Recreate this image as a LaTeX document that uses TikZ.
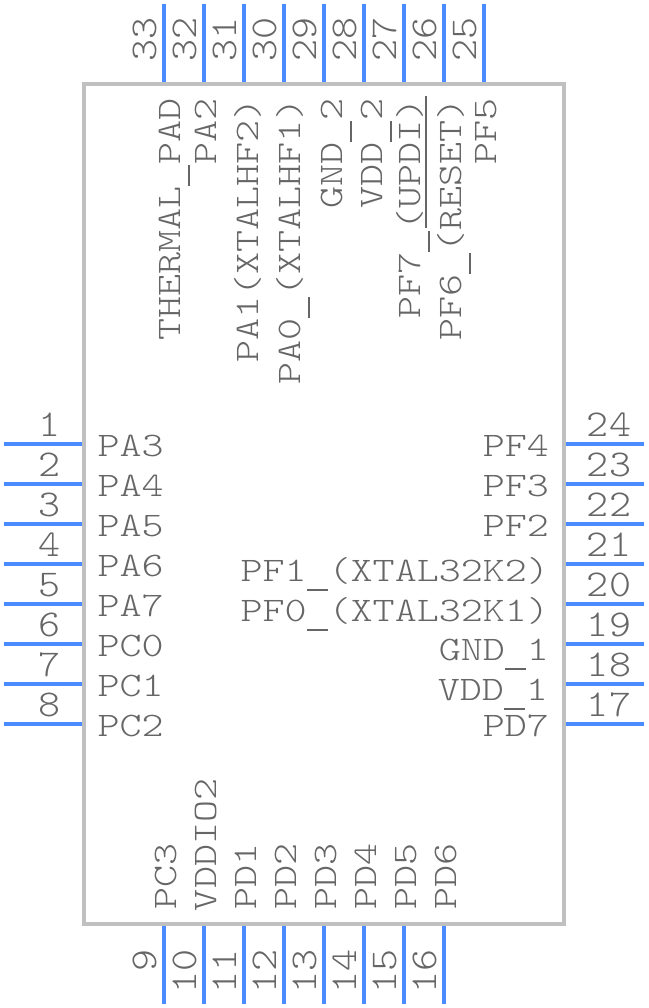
\documentclass[tikz,border=0pt]{standalone}
\usepackage{fontspec}
\setmonofont{Latin Modern Mono Light}[FakeStretch=1.22]
\definecolor{pinblue}{HTML}{4A8CFF}
\definecolor{boxgray}{HTML}{C0C0C0}
\definecolor{labelgray}{HTML}{666666}
\newcommand{\lowbar}{\hbox to 22.03pt{\hss\raisebox{-9.6pt}{\rule{21pt}{1.4pt}}\hss}}
\newcommand{\tallnum}[1]{\scalebox{1}[1.1]{#1}}
\tikzset{
  pin line/.style={draw=pinblue,line width=4pt},
  chip/.style={draw=boxgray,line width=4pt,rectangle,minimum width=480pt,minimum height=840pt,inner sep=0pt},
  lab/.style={text=labelgray,font=\fontsize{34.4}{40}\selectfont\ttfamily,inner sep=0pt,outer sep=0pt},
  west lab/.style={lab,anchor=base west},
  east lab/.style={lab,anchor=base east},
  num lab/.style={lab,anchor=base},
  up end/.style={lab,rotate=90,anchor=base east},
  up start/.style={lab,rotate=90,anchor=base west},
}
\begin{document}
\begin{tikzpicture}[x=1pt,y=-1pt]
\useasboundingbox (0,0) rectangle (648,1008);
\node[chip] (ic) at (324,504) {};
% left pins
\foreach \n/\t [count=\i from 0] in {1/PA3,2/PA4,3/PA5,4/PA6,5/PA7,6/PC0,7/PC1,8/PC2}{
  \pgfmathtruncatemacro{\py}{444+40*\i}
  \coordinate (p\n a) at (4,\py);
  \coordinate (p\n b) at (82,\py);
  \draw[pin line] (p\n a) -- (p\n b);
  \node[num lab] (n\n) at (50,\py-8) {\tallnum{\n}};
  \node[west lab] (t\n) at (97.5,\py+12) {\t};
}
% right pins
\foreach \n/\t/\dy/\rx [count=\i from 0] in {24/PF4/12/549,23/PF3/12/549,22/PF2/12/549,21/PF1\lowbar(XTAL32K2)/17/549,20/PF0\lowbar(XTAL32K1)/17/549,19/GND\lowbar 1/16/549,18/VDD\lowbar 1/16/548,17/PD7/12/549}{
  \pgfmathtruncatemacro{\py}{444+40*\i}
  \coordinate (p\n a) at (644,\py);
  \coordinate (p\n b) at (566,\py);
  \draw[pin line] (p\n a) -- (p\n b);
  \node[num lab] (n\n) at (609,\py-8) {\tallnum{\n}};
  \node[east lab] (t\n) at (\rx,\py+\dy) {\t};
}
% bottom pins
\foreach \n/\t/\sy [count=\i from 0] in {9/PC3/909.5,10/VDDIO2/911,11/PD1/909.5,12/PD2/909.5,13/PD3/909.5,14/PD4/909.5,15/PD5/909.5,16/PD6/909.5}{
  \pgfmathtruncatemacro{\px}{164+40*\i}
  \coordinate (p\n a) at (\px,1004);
  \coordinate (p\n b) at (\px,926);
  \draw[pin line] (p\n a) -- (p\n b);
  \node[up end] (n\n) at (\px-8,949) {\tallnum{\n}};
  \node[up start] (t\n) at (\px+12,\sy) {\t};
}
% top pins
\foreach \n/\t/\bx [count=\i from 0] in {33/THERMAL\lowbar PAD/180,32/PA2/216,31/PA1(XTALHF2)/258,30/PA0\lowbar(XTALHF1)/300,29/GND\lowbar 2/342,28/VDD\lowbar 2/382,27/PF7\lowbar(UPDI)/420,26/PF6\lowbar(RESET)/461,25/PF5/496}{
  \pgfmathtruncatemacro{\px}{164+40*\i}
  \coordinate (p\n a) at (\px,4);
  \coordinate (p\n b) at (\px,82);
  \draw[pin line] (p\n a) -- (p\n b);
  \node[up end] (n\n) at (\px-8,17) {\tallnum{\n}};
  \node[up end] (t\n) at (\bx,98) {\t};
}
\coordinate (barA) at (426,96);
\coordinate (barB) at (426,228);
\draw[labelgray,line width=1.4pt] (barA) -- (barB);
\end{tikzpicture}
\end{document}
